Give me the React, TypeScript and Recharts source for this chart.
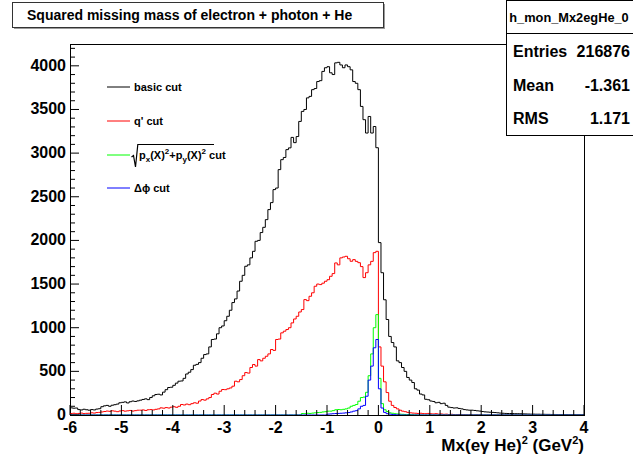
import { Line, LineChart, XAxis, YAxis } from "recharts";

// histogram binning: 200 bins of 0.05 GeV^2 from -6 to 4
const binLow = -6;
const binWidth = 0.05;
const binCount = 200;

const basicCut = [
  82, 78, 80, 62, 58, 66, 60, 55, 62, 58, 68, 72,
  95, 105, 110, 100, 112, 118, 125,
  140, 145, 150, 138, 152, 160, 155, 162,
  170, 178, 185, 176, 200,
  220, 235, 238, 230, 262,
  290, 315, 318, 340, 365,
  387, 390, 420, 470, 490, 520, 570, 580, 600, 650, 692, 700,
  780, 865, 870, 930,
  1000, 1020, 1080, 1131, 1200, 1288, 1330, 1420, 1532, 1600,
  1704, 1720, 1800, 1875, 1990, 2000, 2090, 2150, 2238, 2353,
  2433, 2582, 2600, 2811, 2925, 2950, 3040, 3060, 3180, 3120,
  3190, 3363, 3478, 3500, 3633, 3650, 3727, 3740, 3820, 3830,
  3936, 3978, 3990, 3920, 3900, 4034, 4040, 4010, 3978, 4010,
  3990, 3954, 3820, 3800, 3727, 3535, 3383, 3230, 3420, 3230,
  3305, 3062,
  1975, 1630, 1320, 1094, 900, 830, 780, 620, 600, 544,
  500, 430, 400, 372, 300, 285, 240, 230, 180, 175,
  160, 155, 140, 145, 130, 135, 110, 90, 85, 80,
  82, 75, 70, 62, 58, 55, 55, 52, 48, 45,
  40, 36, 34, 32, 30, 28, 25, 22, 20, 18,
  17, 17, 16, 15, 15, 14, 13, 12, 11, 10,
  10, 9, 9, 8, 8, 7, 7, 6, 6, 5,
  5, 4, 4, 4, 3, 3, 3, 2, 2, 2
];

// q' cut, starts at bin 0, empty after the last listed bin
const qPrimeCut = [
  17, 20, 15, 18, 22, 16, 19, 20, 25, 22,
  28, 30, 35,
  40, 45, 42, 48, 44, 38, 46, 50, 44, 48, 52, 45, 50, 55,
  55, 58, 52, 60, 62, 58, 65, 70,
  82, 78, 85, 80, 90, 95, 88, 100,
  120, 115, 125, 118, 130, 140, 135,
  160, 177, 170, 185, 200, 235,
  250, 240, 272, 292, 290, 300, 310, 330,
  387, 380, 406, 450, 486, 480, 544, 578, 560,
  635, 620, 650, 673, 700, 750, 740, 865, 870, 941,
  960, 979, 1000, 1055, 1100, 1131, 1180, 1208, 1322, 1310,
  1360, 1400, 1475, 1500, 1494, 1510, 1532, 1550, 1589, 1620,
  1742, 1720, 1800, 1810, 1818, 1790,
  1761, 1780, 1760, 1745, 1700, 1574, 1630, 1720, 1760, 1860, 1875,
  780, 560, 380, 257, 158, 110, 86, 70, 55, 44,
  38, 30, 25, 22, 20, 18, 20, 16, 15, 18,
  14, 12, 15, 10, 12, 8, 10, 6, 8, 5,
  4, 6, 3, 4, 2, 3, 2, 1, 2, 1
];

// sqrt(px^2+py^2) cut, first filled bin 90 (x = -1.5)
const ptCutFirstBin = 90;
const ptCut = [
  17, 15, 20, 18, 22, 25, 28, 30, 35, 38,
  44, 44, 50, 60, 63, 60, 65, 70, 80, 100,
  110, 120, 158, 200, 205, 260, 450, 700, 1000, 1150,
  420, 130, 60, 40, 25, 20, 15, 12, 10, 8, 6, 5, 4, 3, 2
];

// delta phi cut, first filled bin 100 (x = -1.0)
const dphiCutFirstBin = 100;
const dphiCut = [
  10, 12, 15, 17, 18, 20, 22, 25, 28, 35,
  44, 50, 70, 100, 110, 215, 400, 560, 770, 865,
  300, 80, 30, 15, 10, 6, 4, 2, 1
];

const xMajorTicks = [-6, -5, -4, -3, -2, -1, 0, 1, 2, 3, 4];
const yMajorTicks = [0, 500, 1000, 1500, 2000, 2500, 3000, 3500, 4000];
const yMax = 4250;

const legendItems = [
  { key: "basic", color: "#000000" },
  { key: "qprime", color: "#ff0000" },
  { key: "pt", color: "#00ff00" },
  { key: "dphi", color: "#0000ff" }
];

const font = "'Liberation Sans', Arial, Helvetica, sans-serif";

function binValue(values: number[], firstBin: number, bin: number) {
  const k = bin - firstBin;
  return k >= 0 && k < values.length ? values[k] : 0;
}

const rows = Array.from({ length: binCount + 1 }, (_, i) => {
  const bin = Math.min(i, binCount - 1);
  return {
    x: Number((binLow + i * binWidth).toFixed(2)),
    basic: basicCut[bin],
    qprime: binValue(qPrimeCut, 0, bin),
    pt: binValue(ptCut, ptCutFirstBin, bin),
    dphi: binValue(dphiCut, dphiCutFirstBin, bin)
  };
});

const xTicks: number[] = [];
xMajorTicks.forEach((t, i) => {
  xTicks.push(t);
  if (i < xMajorTicks.length - 1) {
    for (let k = 1; k < 5; k++) xTicks.push(Number((t + k * 0.2).toFixed(2)));
  }
});

const yTicks: number[] = [];
for (let v = 0; v <= 4200; v += 100) yTicks.push(v);

// ROOT style: ticks drawn inside the frame, labels outside
function renderXTick(props: any) {
  const { x, y, payload } = props;
  const v = payload.value as number;
  const major = xMajorTicks.includes(v);
  return (
    <g key={`xt-${v}`}>
      <line x1={x} x2={x} y1={y} y2={y - (major ? 10 : 5)} stroke="#000" strokeWidth={1} />
      {major && (
        <text x={x} y={y + 17.5} textAnchor="middle" fontFamily={font} fontWeight="bold" fontSize={16} fill="#000">
          {v}
        </text>
      )}
    </g>
  );
}

function renderYTick(props: any) {
  const { x, y, payload } = props;
  const v = payload.value as number;
  const major = yMajorTicks.includes(v);
  return (
    <g key={`yt-${v}`}>
      <line x1={x} x2={x + (major ? 9 : 5)} y1={y} y2={y} stroke="#000" strokeWidth={1} />
      {major && (
        <text x={x - 4} y={y + 5} textAnchor="end" fontFamily={font} fontWeight="bold" fontSize={16} fill="#000">
          {v}
        </text>
      )}
    </g>
  );
}

function Decorations() {
  const rowY = [87, 121, 155, 188];
  return (
    <svg width={633} height={463} style={{ position: "absolute", left: 0, top: 0 }}>
      {/* frame */}
      <rect x={70.5} y={44.5} width={514} height={371} fill="none" stroke="#000" />

      {/* title box */}
      <rect x={14} y={4} width={371} height={25} fill="#9a9a9a" />
      <rect x={12.5} y={2.5} width={371} height={25} fill="#fff" stroke="#333" />
      <text x={27} y={20} fontFamily={font} fontWeight="bold" fontSize={14} fill="#000">
        Squared missing mass of electron + photon + He
      </text>

      {/* stats box */}
      <rect x={506.5} y={0.5} width={130} height={135} fill="#fff" stroke="#000" />
      <line x1={506} x2={633} y1={33.5} y2={33.5} stroke="#000" />
      <text x={569} y={22} textAnchor="middle" fontFamily={font} fontWeight="bold" fontSize={12.8} fill="#000">
        h_mon_Mx2egHe_0
      </text>
      {[
        ["Entries", "216876", 57],
        ["Mean", "-1.361", 91],
        ["RMS", "1.171", 124]
      ].map(([label, value, y]) => (
        <g key={label as string}>
          <text x={513} y={y as number} fontFamily={font} fontWeight="bold" fontSize={16} fill="#000">
            {label}
          </text>
          <text x={630} y={y as number} textAnchor="end" fontFamily={font} fontWeight="bold" fontSize={16} fill="#000">
            {value}
          </text>
        </g>
      ))}

      {/* legend */}
      {legendItems.map((item, i) => (
        <line key={item.key} x1={107} x2={130} y1={rowY[i]} y2={rowY[i]} stroke={item.color} strokeWidth={1} />
      ))}
      <g fontFamily={font} fontWeight="bold" fontSize={11} fill="#000">
        <text x={134} y={rowY[0] + 4}>basic cut</text>
        <text x={134} y={rowY[1] + 4}>q' cut</text>
        <path d="M131.5 157 L133.5 155.5 L135.5 167 L137.8 144.5 L214 144.5" fill="none" stroke="#000" strokeWidth={1.2} />
        <text x={139} y={rowY[2] + 4}>
          p<tspan fontSize={8} dy={3}>x</tspan>
          <tspan dy={-3}>(X)</tspan>
          <tspan fontSize={8} dy={-5}>2</tspan>
          <tspan dy={5}>+p</tspan>
          <tspan fontSize={8} dy={3}>y</tspan>
          <tspan dy={-3}>(X)</tspan>
          <tspan fontSize={8} dy={-5}>2</tspan>
          <tspan dy={5}> cut</tspan>
        </text>
        <text x={134} y={rowY[3] + 4}>Δϕ cut</text>
      </g>

      {/* x axis title */}
      <text x={584} y={451} textAnchor="end" fontFamily={font} fontWeight="bold" fontSize={17} fill="#000">
        Mx(eγ He)<tspan fontSize={11} dy={-7}>2</tspan>
        <tspan dy={7}> (GeV</tspan>
        <tspan fontSize={11} dy={-7}>2</tspan>
        <tspan dy={7}>)</tspan>
      </text>
    </svg>
  );
}

export default function App() {
  return (
    <div style={{ position: "absolute", left: 0, top: 0, width: 633, height: 463, background: "#fff" }}>
      <Decorations />
      <div style={{ position: "absolute", left: 0, top: 0 }}>
        <LineChart width={633} height={463} data={rows} margin={{ top: 44, right: 49, bottom: 0, left: 0 }}>
          <XAxis
            dataKey="x"
            type="number"
            domain={[-6, 4]}
            ticks={xTicks}
            interval={0}
            height={48}
            axisLine={false}
            tickLine={false}
            tickSize={0}
            tickMargin={0}
            tick={renderXTick}
            allowDataOverflow
          />
          <YAxis
            type="number"
            domain={[0, yMax]}
            ticks={yTicks}
            interval={0}
            width={70}
            axisLine={false}
            tickLine={false}
            tickSize={0}
            tickMargin={0}
            tick={renderYTick}
            allowDataOverflow
          />
          <Line dataKey="basic" type="stepAfter" stroke="#000000" strokeWidth={1} dot={false} isAnimationActive={false} />
          <Line dataKey="qprime" type="stepAfter" stroke="#ff0000" strokeWidth={1} dot={false} isAnimationActive={false} />
          <Line dataKey="pt" type="stepAfter" stroke="#00ff00" strokeWidth={1} dot={false} isAnimationActive={false} />
          <Line dataKey="dphi" type="stepAfter" stroke="#0000ff" strokeWidth={1} dot={false} isAnimationActive={false} />
        </LineChart>
      </div>
    </div>
  );
}
